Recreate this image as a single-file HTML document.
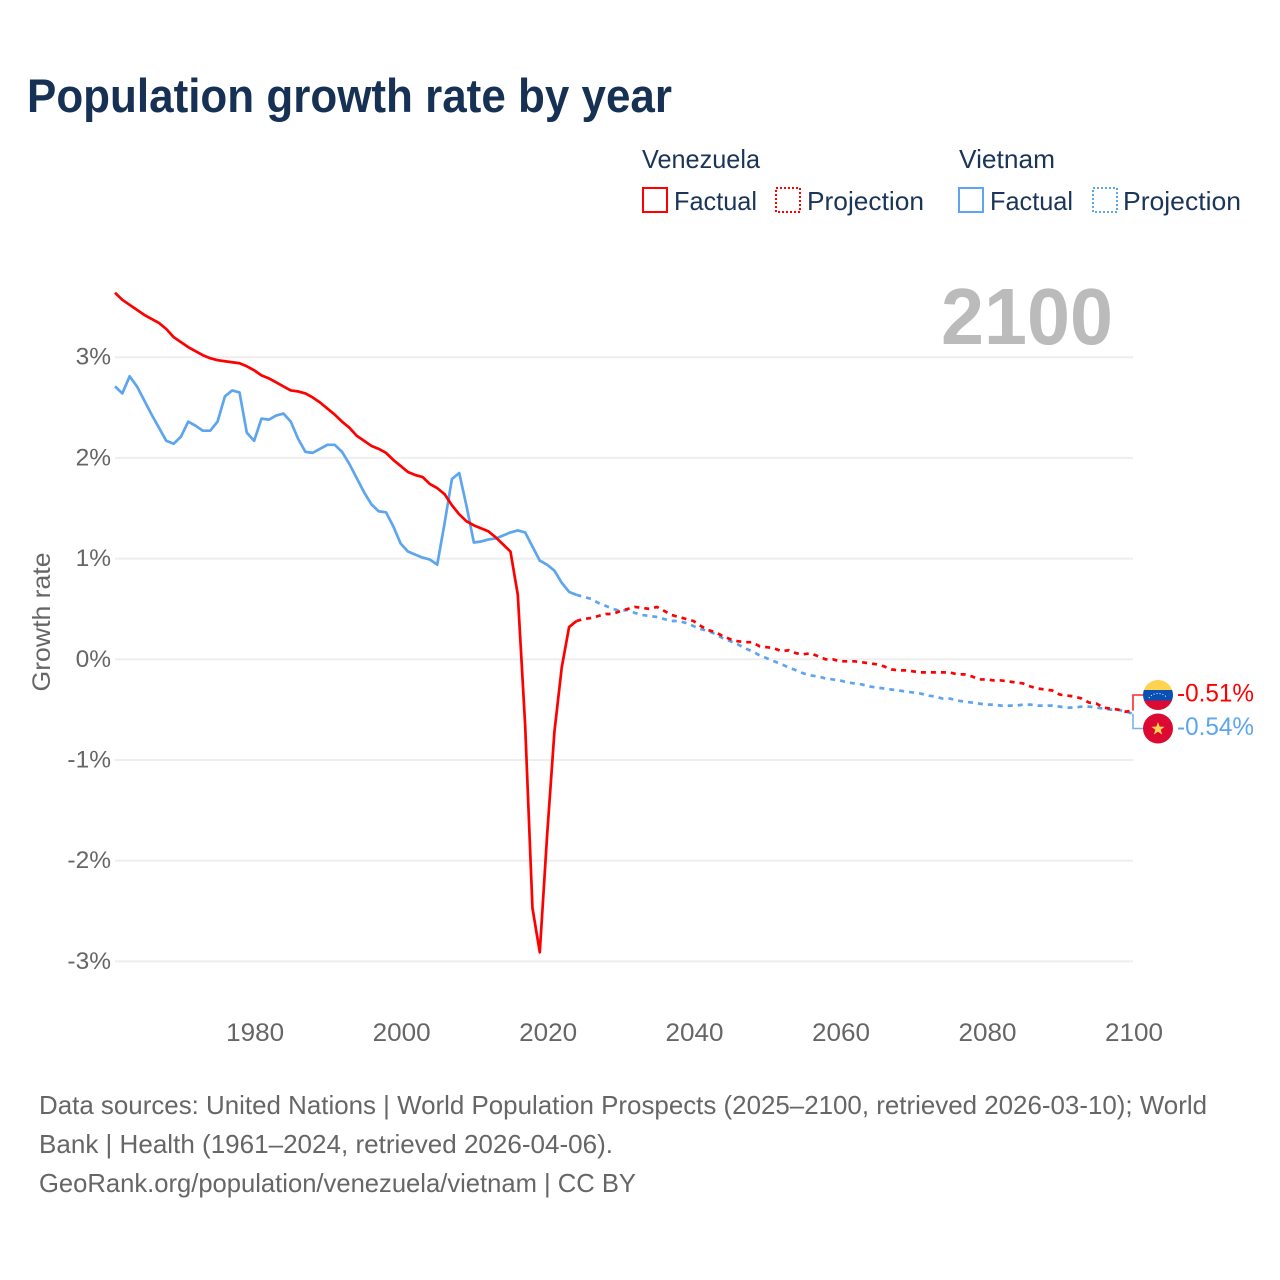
<!DOCTYPE html>
<html lang="en">
<head>
<meta charset="utf-8">
<title>Population growth rate by year</title>
<style>
html,body{margin:0;padding:0;background:#fff;}
svg{display:block;font-family:"Liberation Sans",sans-serif;}
</style>
</head>
<body>
<svg id="chart" xmlns="http://www.w3.org/2000/svg" width="1280" height="1280" viewBox="0 0 1280 1280">
  <rect width="1280" height="1280" fill="#ffffff"/>
  <text x="27" y="112" font-size="47" font-weight="700" fill="#163153" textLength="645" lengthAdjust="spacingAndGlyphs">Population growth rate by year</text>

  <g fill="#1b3558" font-size="26">
    <text x="642" y="168" textLength="118" lengthAdjust="spacingAndGlyphs">Venezuela</text>
    <text x="959" y="168" textLength="96" lengthAdjust="spacingAndGlyphs">Vietnam</text>
    <rect x="643" y="188" width="24" height="24" fill="none" stroke="#ff0000" stroke-width="2"/>
    <text x="674" y="210" textLength="83" lengthAdjust="spacingAndGlyphs">Factual</text>
    <rect x="776" y="188" width="24" height="24" fill="none" stroke="#ff0000" stroke-width="2" stroke-dasharray="2 2"/>
    <text x="807" y="210" textLength="117" lengthAdjust="spacingAndGlyphs">Projection</text>
    <rect x="959" y="188" width="24" height="24" fill="none" stroke="#5da5ee" stroke-width="2"/>
    <text x="990" y="210" textLength="83" lengthAdjust="spacingAndGlyphs">Factual</text>
    <rect x="1093" y="188" width="24" height="24" fill="none" stroke="#5da5ee" stroke-width="2" stroke-dasharray="2 2"/>
    <text x="1123" y="210" textLength="118" lengthAdjust="spacingAndGlyphs">Projection</text>
  </g>

  <text x="941" y="344" font-size="80" font-weight="700" fill="#bbbbbb" textLength="172" lengthAdjust="spacingAndGlyphs">2100</text>

  <g id="grid"></g>
  <g id="yticks"></g>
  <g id="xticks"></g>
  <text transform="translate(50,622) rotate(-90)" text-anchor="middle" font-size="25" fill="#666666" textLength="139" lengthAdjust="spacingAndGlyphs">Growth rate</text>
  <g id="series"></g>

  <g>
    <clipPath id="clip-ve"><circle cx="1158" cy="695" r="15"/></clipPath>
    <g clip-path="url(#clip-ve)">
      <rect x="1143" y="680" width="30" height="10" fill="#ffd24f"/>
      <rect x="1143" y="690" width="30" height="10.5" fill="#0a50b4"/>
      <rect x="1143" y="700.5" width="30" height="10" fill="#dc0a32"/>
      <path d="M1149 698 A10 8 0 0 1 1167 698" fill="none" stroke="#ffffff" stroke-width="1" stroke-dasharray="1 2"/>
    </g>
  </g>
  <g>
    <circle cx="1158" cy="728.5" r="15" fill="#dc0a32"/>
    <polygon points="1158,722 1159.7,726.6 1164.6,726.8 1160.7,729.8 1162.1,734.5 1158,731.8 1153.9,734.5 1155.3,729.8 1151.4,726.8 1156.3,726.6" fill="#ffd24f"/>
  </g>
  <g id="endlabels"></g>

  <g font-size="26" fill="#666666">
    <text x="39" y="1114" textLength="1168" lengthAdjust="spacingAndGlyphs">Data sources: United Nations | World Population Prospects (2025–2100, retrieved 2026-03-10); World</text>
    <text x="39" y="1153" textLength="574" lengthAdjust="spacingAndGlyphs">Bank | Health (1961–2024, retrieved 2026-04-06).</text>
    <text x="39" y="1192" textLength="597" lengthAdjust="spacingAndGlyphs">GeoRank.org/population/venezuela/vietnam | CC BY</text>
  </g>
</svg>
<script>
const yTickValues = [3, 2, 1, 0, -1, -2, -3];
const yTickLabels = ["3%", "2%", "1%", "0%", "-1%", "-2%", "-3%"];
const xTickYears = [1980, 2000, 2020, 2040, 2060, 2080, 2100];
const xTickLabels = ["1980", "2000", "2020", "2040", "2060", "2080", "2100"];
const factualStartYear = 1961;
const projectionStartYear = 2025;
const venezuelaFactual = [
  3.64,3.57,3.52,3.47,3.42,3.38,3.34,3.28,3.20,3.15,
  3.10,3.06,3.02,2.99,2.97,2.96,2.95,2.94,2.91,2.87,
  2.82,2.79,2.75,2.71,2.67,2.66,2.64,2.60,2.55,2.49,
  2.43,2.36,2.30,2.22,2.17,2.12,2.09,2.05,1.98,1.92,
  1.86,1.83,1.81,1.74,1.70,1.64,1.53,1.44,1.37,1.33,
  1.30,1.27,1.21,1.14,1.07,0.64,-0.65,-2.47,-2.91,-1.75,
  -0.72,-0.08,0.32,0.38
];
const vietnamFactual = [
  2.71,2.64,2.81,2.71,2.57,2.43,2.30,2.17,2.14,2.21,
  2.36,2.32,2.27,2.27,2.36,2.61,2.67,2.65,2.25,2.17,
  2.39,2.38,2.42,2.44,2.36,2.19,2.06,2.05,2.09,2.13,
  2.13,2.06,1.94,1.80,1.66,1.54,1.47,1.46,1.32,1.15,
  1.07,1.04,1.01,0.99,0.94,1.35,1.79,1.85,1.52,1.16,
  1.17,1.19,1.20,1.23,1.26,1.28,1.26,1.12,0.98,0.94,
  0.88,0.76,0.67,0.64
];
const venezuelaProjection = [
  0.40,0.41,0.43,0.45,0.45,0.48,0.50,0.52,0.51,0.50,
  0.52,0.48,0.44,0.42,0.40,0.38,0.33,0.29,0.27,0.23,
  0.20,0.18,0.17,0.17,0.13,0.12,0.11,0.08,0.09,0.06,
  0.05,0.06,0.03,0.00,0.00,-0.02,-0.02,-0.02,-0.03,-0.04,
  -0.05,-0.07,-0.10,-0.11,-0.11,-0.12,-0.13,-0.13,-0.13,-0.13,
  -0.13,-0.15,-0.15,-0.17,-0.20,-0.20,-0.21,-0.21,-0.22,-0.23,
  -0.24,-0.27,-0.29,-0.30,-0.31,-0.35,-0.36,-0.37,-0.39,-0.43,
  -0.44,-0.48,-0.49,-0.50,-0.52,-0.51
];
const vietnamProjection = [
  0.62,0.60,0.56,0.53,0.50,0.48,0.49,0.46,0.44,0.43,
  0.42,0.40,0.38,0.38,0.36,0.33,0.30,0.28,0.25,0.21,
  0.18,0.15,0.11,0.08,0.04,0.01,-0.02,-0.05,-0.08,-0.11,
  -0.14,-0.16,-0.17,-0.19,-0.20,-0.21,-0.23,-0.24,-0.25,-0.27,
  -0.28,-0.29,-0.30,-0.31,-0.32,-0.33,-0.34,-0.36,-0.37,-0.39,
  -0.39,-0.41,-0.42,-0.43,-0.44,-0.45,-0.45,-0.46,-0.46,-0.46,
  -0.45,-0.45,-0.46,-0.46,-0.46,-0.47,-0.48,-0.48,-0.47,-0.47,
  -0.48,-0.49,-0.50,-0.50,-0.52,-0.54
];

const SVG_NS = "http://www.w3.org/2000/svg";
const RED = "#ff0000";
const BLUE = "#5da5ee";

function xScale(year) {
  return 115 + (year - 1961) * (1133 - 115) / (2100 - 1961);
}
function yScale(value) {
  return 659.3 - value * 100.7;
}
function make(tag, attrs) {
  const el = document.createElementNS(SVG_NS, tag);
  for (const key in attrs) el.setAttribute(key, attrs[key]);
  return el;
}
function buildPath(values, startYear, prefix) {
  let d = prefix;
  values.forEach(function (v, i) {
    const cmd = d === "" ? "M" : "L";
    d += cmd + xScale(startYear + i).toFixed(2) + " " + yScale(v).toFixed(2);
  });
  return d;
}

const gridLayer = document.getElementById("grid");
const yTickLayer = document.getElementById("yticks");
yTickValues.forEach(function (v, i) {
  const line = make("line", {x1: 115, x2: 1133, y1: yScale(v), y2: yScale(v), stroke: "#eeeeee", "stroke-width": 2});
  
  
  gridLayer.appendChild(line);
  const label = make("text", {x: 111, y: yScale(v) + 7.5, "text-anchor": "end", "font-size": 24.5, fill: "#666666"});
  
  
  label.textContent = yTickLabels[i];
  yTickLayer.appendChild(label);
});

const xTickLayer = document.getElementById("xticks");
xTickYears.forEach(function (year, i) {
  const label = make("text", {x: xScale(year) + 1, y: 1041, "text-anchor": "middle", "font-size": 25, fill: "#666666", textLength: 58, lengthAdjust: "spacingAndGlyphs"});
  
  
  label.textContent = xTickLabels[i];
  xTickLayer.appendChild(label);
});

const seriesLayer = document.getElementById("series");
function drawSeries(name, factual, projection, color) {
  const lastYear = factualStartYear + factual.length - 1;
  const lastValue = factual[factual.length - 1];
  const projLine = make("path", {
    d: buildPath(projection, projectionStartYear, "M" + xScale(lastYear).toFixed(2) + " " + yScale(lastValue).toFixed(2)),
    fill: "none", stroke: color, "stroke-width": 2.7, "stroke-dasharray": "5 5", "stroke-linejoin": "round"
  });
  
  
  seriesLayer.appendChild(projLine);
  const factLine = make("path", {
    d: buildPath(factual, factualStartYear, ""),
    fill: "none", stroke: color, "stroke-width": 2.7, "stroke-linejoin": "round"
  });
  
  
  seriesLayer.appendChild(factLine);
}
drawSeries("vietnam", vietnamFactual, vietnamProjection, BLUE);
drawSeries("venezuela", venezuelaFactual, venezuelaProjection, RED);

const endLayer = document.getElementById("endlabels");
function drawEnd(name, projection, color, flagY) {
  const value = projection[projection.length - 1];
  const endX = xScale(2100);
  const connector = make("path", {
    d: "M" + endX + " " + yScale(value) + "L" + endX + " " + flagY + "L1143 " + flagY,
    fill: "none", stroke: color, "stroke-width": 1.6, opacity: 0.85
  });
  
  
  endLayer.appendChild(connector);
  const label = make("text", {x: 1177, y: flagY + 6.5, "font-size": 25, fill: color, textLength: 77, lengthAdjust: "spacingAndGlyphs"});
  
  
  label.textContent = value.toFixed(2) + "%";
  endLayer.appendChild(label);
}
drawEnd("venezuela", venezuelaProjection, RED, 695);
drawEnd("vietnam", vietnamProjection, BLUE, 728.5);
</script>
</body>
</html>
